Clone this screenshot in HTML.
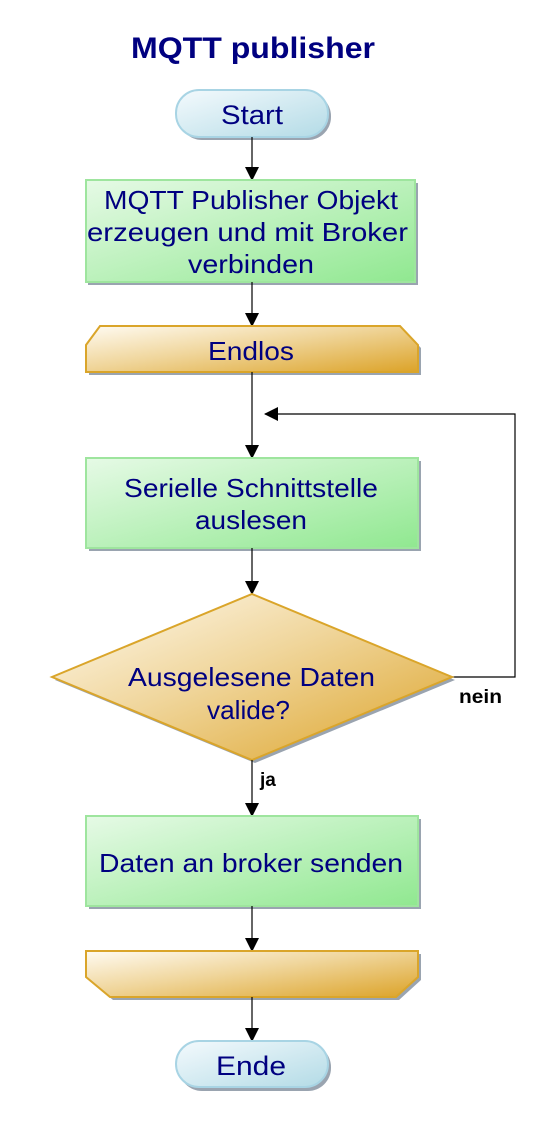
<!DOCTYPE html>
<html><head><meta charset="utf-8"><style>
html,body{margin:0;padding:0;background:#fff;}
svg{display:block;}
text{font-family:"Liberation Sans",sans-serif;}
</style></head><body>
<svg width="558" height="1131" viewBox="0 0 558 1131" xmlns="http://www.w3.org/2000/svg">
<defs>
<linearGradient id="blue" x1="0" y1="0" x2="1" y2="1"><stop offset="0" stop-color="#f4fafd"/><stop offset="1" stop-color="#b3dbe6"/></linearGradient>
<linearGradient id="green" x1="0" y1="0" x2="1" y2="1"><stop offset="0" stop-color="#e6fae6"/><stop offset="1" stop-color="#90e890"/></linearGradient>
<linearGradient id="gold" x1="0" y1="0" x2="1" y2="1"><stop offset="0" stop-color="#fffbf2"/><stop offset="0.45" stop-color="#f0d69c"/><stop offset="1" stop-color="#dca328"/></linearGradient>
<marker id="ar" markerWidth="14" markerHeight="14" refX="13" refY="7" orient="auto" markerUnits="userSpaceOnUse"><path d="M0,0 L14,7 L0,14 z" fill="#000"/></marker>
</defs>
<g fill="#9aa4b0">
<rect x="179" y="93" width="152" height="47" rx="23"/>
<rect x="88" y="183" width="330" height="102"/>
<path d="M103,329 L403,329 L421,348 L421,375 L89,375 L89,348 Z"/>
<rect x="89" y="461" width="332" height="90"/>
<path d="M255,597 L455,680 L255,763 L55,680 Z"/>
<rect x="89" y="819" width="332" height="90"/>
<path d="M89,954 L421,954 L421,980 L399,1000 L113,1000 L89,980 Z"/>
<rect x="179" y="1044" width="152" height="47" rx="23"/>
</g>
<text x="131" y="58" font-size="30" font-weight="bold" fill="#000080" textLength="244" lengthAdjust="spacingAndGlyphs">MQTT publisher</text>
<rect x="176" y="90" width="152" height="47" rx="23" fill="url(#blue)" stroke="#a8d4e4" stroke-width="2"/>
<text x="221" y="124" font-size="27" fill="#000080" textLength="62" lengthAdjust="spacingAndGlyphs">Start</text>
<line x1="252" y1="137" x2="252" y2="180" stroke="#000" stroke-width="1.2" marker-end="url(#ar)"/>
<rect x="86" y="180" width="329" height="102" fill="url(#green)" stroke="#9ee59e" stroke-width="2"/>
<g font-size="26" fill="#000080">
<text x="104" y="209" textLength="294" lengthAdjust="spacingAndGlyphs">MQTT Publisher Objekt</text>
<text x="87" y="241" textLength="321" lengthAdjust="spacingAndGlyphs">erzeugen und mit Broker</text>
<text x="188" y="273" textLength="126" lengthAdjust="spacingAndGlyphs">verbinden</text>
</g>
<line x1="252" y1="282" x2="252" y2="326" stroke="#000" stroke-width="1.2" marker-end="url(#ar)"/>
<path d="M100,326 L400,326 L418,345 L418,372 L86,372 L86,345 Z" fill="url(#gold)" stroke="#daa52a" stroke-width="2"/>
<text x="208" y="360" font-size="26" fill="#000080" textLength="86" lengthAdjust="spacingAndGlyphs">Endlos</text>
<line x1="252" y1="372" x2="252" y2="458" stroke="#000" stroke-width="1.2" marker-end="url(#ar)"/>
<polyline points="452,677 515,677 515,414 265,414" fill="none" stroke="#000" stroke-width="1.2" marker-end="url(#ar)"/>
<rect x="86" y="458" width="332" height="90" fill="url(#green)" stroke="#9ee59e" stroke-width="2"/>
<g font-size="26" fill="#000080">
<text x="124" y="497" textLength="254" lengthAdjust="spacingAndGlyphs">Serielle Schnittstelle</text>
<text x="195" y="529" textLength="112" lengthAdjust="spacingAndGlyphs">auslesen</text>
</g>
<line x1="252" y1="548" x2="252" y2="594" stroke="#000" stroke-width="1.2" marker-end="url(#ar)"/>
<path d="M252,594 L452,677 L252,760 L52,677 Z" fill="url(#gold)" stroke="#daa52a" stroke-width="2"/>
<g font-size="26" fill="#000080">
<text x="128" y="686" textLength="247" lengthAdjust="spacingAndGlyphs">Ausgelesene Daten</text>
<text x="207" y="719" textLength="83" lengthAdjust="spacingAndGlyphs">valide?</text>
</g>
<text x="459" y="703" font-size="19" font-weight="bold" fill="#000" textLength="43" lengthAdjust="spacingAndGlyphs">nein</text>
<text x="260" y="786" font-size="19" font-weight="bold" fill="#000">ja</text>
<line x1="252" y1="760" x2="252" y2="816" stroke="#000" stroke-width="1.2" marker-end="url(#ar)"/>
<rect x="86" y="816" width="332" height="90" fill="url(#green)" stroke="#9ee59e" stroke-width="2"/>
<text x="99" y="872" font-size="26" fill="#000080" textLength="304" lengthAdjust="spacingAndGlyphs">Daten an broker senden</text>
<line x1="252" y1="906" x2="252" y2="951" stroke="#000" stroke-width="1.2" marker-end="url(#ar)"/>
<path d="M86,951 L418,951 L418,977 L396,997 L110,997 L86,977 Z" fill="url(#gold)" stroke="#daa52a" stroke-width="2"/>
<line x1="252" y1="997" x2="252" y2="1041" stroke="#000" stroke-width="1.2" marker-end="url(#ar)"/>
<rect x="176" y="1041" width="152" height="46" rx="23" fill="url(#blue)" stroke="#a8d4e4" stroke-width="2"/>
<text x="216" y="1075" font-size="27" fill="#000080" textLength="70" lengthAdjust="spacingAndGlyphs">Ende</text>
</svg>
</body></html>
